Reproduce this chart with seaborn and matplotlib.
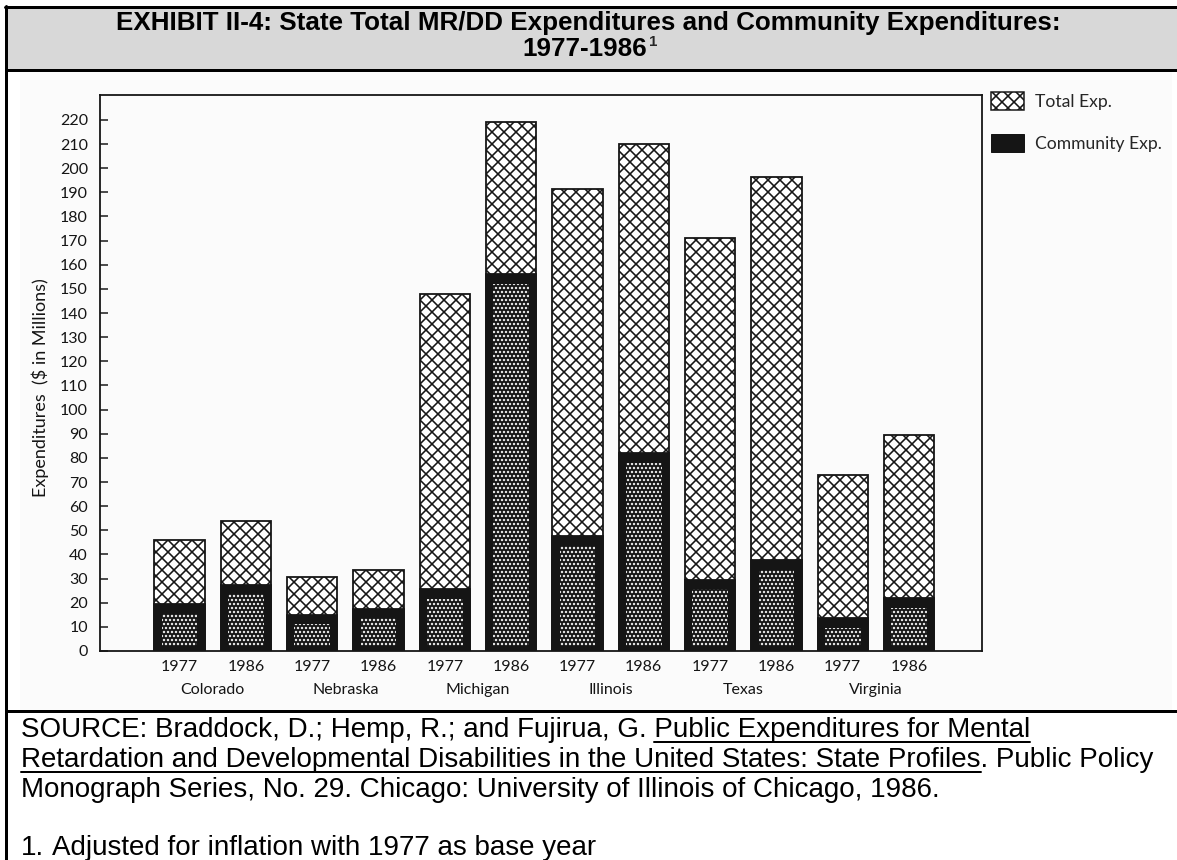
import numpy as np
import pandas as pd
import seaborn as sns
import matplotlib.pyplot as plt
import matplotlib.transforms as mtransforms
from matplotlib.patches import Patch, Rectangle
from matplotlib.lines import Line2D

# ───────────────────────
# 1. Data (read off the exhibit, $ millions)
# ───────────────────────
states = ["Colorado", "Nebraska", "Michigan", "Illinois", "Texas", "Virginia"]
years = ["1977", "1986"]
total_exp = [46, 54, 30.5, 33.5, 148, 219, 191.5, 210, 171, 196.5, 73, 89.5]
community_exp = [19.5, 27.5, 15, 17.5, 25.5, 156, 47.5, 82, 29.5, 37.5, 13.5, 22]
y_ticks = list(range(0, 221, 10))

title_line1 = "EXHIBIT II-4: State Total MR/DD Expenditures and Community Expenditures:"
title_line2 = "1977-1986"
source_pre = "SOURCE: Braddock, D.; Hemp, R.; and Fujirua, G. "
source_book1 = "Public Expenditures for Mental"
source_book2 = "Retardation and Developmental Disabilities in the United States: State Profiles"
source_post2 = ". Public Policy"
source_line3 = "Monograph Series, No. 29. Chicago: University of Illinois of Chicago, 1986."
note_text = "Adjusted for inflation with 1977 as base year"

df = pd.DataFrame({
    "state": np.repeat(states, len(years)),
    "year": years * len(states),
    "total": total_exp,
    "community": community_exp,
})
df["bar"] = df["state"] + " " + df["year"]

# ───────────────────────
# 2. Style (dpi 72 so that 1 pt == 1 px)
# ───────────────────────
W, H, DPI = 1177, 860, 72
sns.set_style("ticks")
plt.rcParams.update({
    "font.family": ["Lato", "DejaVu Sans"],
    "hatch.linewidth": 1.6,
})
INK = "#151515"


def fx(px):
    return px / W


def fy(py):
    return 1 - py / H


fig = plt.figure(figsize=(W / DPI, H / DPI), dpi=DPI)
fig.patch.set_facecolor("white")
renderer = fig.canvas.get_renderer()

# exhibit frame
fig.add_artist(Rectangle((fx(6), fy(70)), fx(1177) - fx(6), fy(8) - fy(70),
                         transform=fig.transFigure, facecolor="#d8d8d8",
                         edgecolor="none", zorder=-2))
fig.add_artist(Rectangle((fx(20), fy(710)), fx(1172) - fx(20), fy(72) - fy(710),
                         transform=fig.transFigure, facecolor="#fbfbfb",
                         edgecolor="none", zorder=-2))
for (x0, y0, x1, y1, lw) in [(5, 7, 1177, 7, 3), (6, 70, 1177, 70, 3),
                             (6, 711, 1177, 711, 3), (6, 6, 6, 860, 3)]:
    fig.add_artist(Line2D([fx(x0), fx(x1)], [fy(y0), fy(y1)], color="black",
                          lw=lw, transform=fig.transFigure, zorder=5))

# ───────────────────────
# 3. Bars
# ───────────────────────
ax = fig.add_axes([fx(100), fy(651), fx(982) - fx(100), fy(95) - fy(651)])
ax.set_facecolor("none")

sns.barplot(data=df, x="bar", y="total", order=df["bar"], color="white",
            edgecolor=INK, linewidth=1.8, hatch="xx", width=0.76, ax=ax)
sns.barplot(data=df, x="bar", y="community", order=df["bar"], color=INK,
            edgecolor=INK, linewidth=1.8, width=0.76, ax=ax)
# speckled fill of the community bars
pos = np.arange(len(df))
speck = np.clip(df["community"].to_numpy() - 6, 0, None)
ax.bar(pos, speck, bottom=2, width=0.54, facecolor="none", edgecolor="white",
       linewidth=0, hatch="...", zorder=3)

ax.set_xlim(-1.2, 12.1)
ax.set_ylim(0, 230.3)
ax.set_yticks(y_ticks)
ax.set_xticks(pos)
ax.set_xticklabels(df["year"])
ax.tick_params(axis="y", direction="in", length=8, width=1.5, pad=12,
               labelsize=16, colors=INK)
ax.tick_params(axis="x", length=0, pad=9, labelsize=16, colors=INK)
for side in ["left", "top", "right", "bottom"]:
    ax.spines[side].set_visible(True)
    ax.spines[side].set_linewidth(1.8)
    ax.spines[side].set_color(INK)
ax.set_xlabel("")
ax.set_ylabel("Expenditures  ($ in Millions)", fontsize=18, color=INK)
ax.yaxis.set_label_coords(-0.058, 0.473)

trans = mtransforms.blended_transform_factory(ax.transData, ax.transAxes)
for i, st in enumerate(states):
    ax.text(2 * i + 0.5, -0.070, st, transform=trans, ha="center", va="center",
            fontsize=16, color=INK)

handles = [Patch(facecolor="white", edgecolor=INK, hatch="xx", lw=1.5, label="Total Exp."),
           Patch(facecolor=INK, edgecolor=INK, label="Community Exp.")]
fig.legend(handles=handles, loc="upper left", bbox_to_anchor=(fx(991), fy(92)),
           frameon=False, borderpad=0, borderaxespad=0, prop={"size": 17.5},
           handlelength=33 / 17.5, handleheight=21 / 17.5, labelspacing=24 / 17.5,
           handletextpad=11 / 17.5)

# ───────────────────────
# 4. Title and source block
# ───────────────────────
tkw = dict(family=["Liberation Sans", "DejaVu Sans"], weight="bold", size=26, color="black")
fig.text(fx(588), fy(30), title_line1, ha="center", va="baseline", **tkw)
t2 = fig.text(fx(585), fy(56), title_line2, ha="center", va="baseline", **tkw)
bb = t2.get_window_extent(renderer)
fig.text(bb.x1 / W + fx(2), fy(46), "1", ha="left", va="baseline",
         family=["Liberation Sans", "DejaVu Sans"], weight="bold", size=15)

skw = dict(family=["Liberation Sans", "DejaVu Sans"], size=27.8, color="black")


def text_width(s):
    t = fig.text(0, 0, s, **skw)
    w = t.get_window_extent(renderer).width
    t.remove()
    return w


def underline(x0, x1, base):
    fig.add_artist(Line2D([fx(x0), fx(x1)], [fy(base + 5), fy(base + 5)],
                          color="black", lw=2, transform=fig.transFigure))


X0 = 21
fig.text(fx(X0), fy(737), source_pre + source_book1, va="baseline", **skw)
full = text_width(source_pre + source_book1)
underline(X0 + full - text_width(source_book1), X0 + full, 737)

fig.text(fx(X0), fy(767), source_book2 + source_post2, va="baseline", **skw)
underline(X0, X0 + text_width(source_book2), 767)

fig.text(fx(X0), fy(797), source_line3, va="baseline", **skw)
fig.text(fx(X0), fy(855), "1.", va="baseline", **skw)
fig.text(fx(52), fy(855), note_text, va="baseline", **skw)

fig.savefig("out.png", dpi=DPI)
